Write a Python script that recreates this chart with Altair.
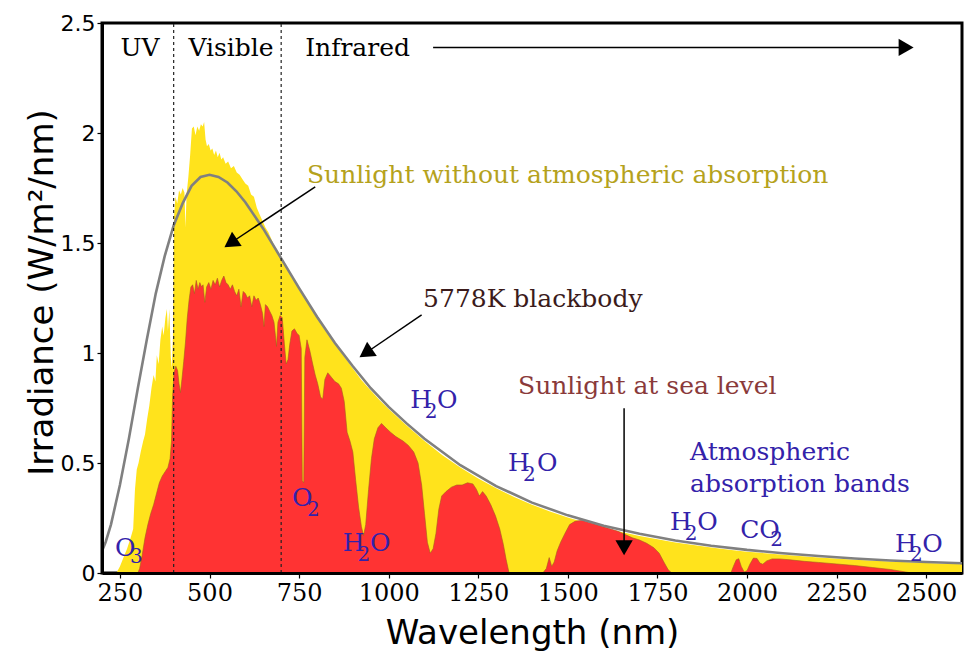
import altair as alt
import pandas as pd

# ---------------------------------------------------------------------------
# Solar spectrum: wavelength (nm) and spectral irradiance (W/m^2/nm)
# ---------------------------------------------------------------------------

# Sunlight at the top of the atmosphere (no atmospheric absorption)
toa_wl = [200, 240, 250, 260, 270, 280, 287, 292, 297, 302, 308, 315, 320, 326,
          332, 338, 344, 349, 353, 358, 363, 368, 372, 377, 381, 384, 388, 392,
          395, 398, 401, 405, 410, 415, 420, 425, 430, 433, 436, 441, 446, 451,
          456, 461, 466, 471, 476, 481, 485, 489, 493, 498, 503, 508, 513, 518,
          523, 528, 533, 538, 545, 552, 560, 568, 576, 584, 592, 600, 608, 616,
          624, 632, 640, 648, 656, 664, 672, 680, 690, 700, 715, 730, 745, 760,
          780, 800, 820, 840, 860, 880, 900, 925, 950, 975, 1000, 1050, 1100,
          1150, 1200, 1250, 1300, 1350, 1400, 1450, 1500, 1550, 1600, 1650,
          1700, 1750, 1800, 1850, 1900, 1950, 2000, 2100, 2200, 2300, 2400,
          2500, 2600]
toa_irr = [0.0, 0.0, 0.03, 0.07, 0.11, 0.16, 0.20, 0.38, 0.47, 0.50, 0.55, 0.60,
           0.63, 0.70, 0.76, 0.84, 0.90, 0.87, 0.99, 0.95, 1.06, 1.12, 1.08, 1.16,
           1.20, 1.10, 1.20, 0.98, 0.93, 1.08, 1.62, 1.71, 1.68, 1.74, 1.72, 1.75,
           1.73, 1.57, 1.72, 1.80, 1.90, 2.02, 2.03, 1.99, 2.03, 2.01, 2.04, 2.03,
           2.05, 1.97, 1.94, 1.95, 1.92, 1.93, 1.90, 1.92, 1.89, 1.91, 1.88, 1.89,
           1.86, 1.87, 1.84, 1.85, 1.82, 1.81, 1.79, 1.77, 1.76, 1.72, 1.71, 1.66,
           1.63, 1.60, 1.57, 1.55, 1.52, 1.49, 1.46, 1.43, 1.39, 1.34, 1.31, 1.27,
           1.22, 1.16, 1.11, 1.065, 1.02, 0.975, 0.93, 0.875, 0.83, 0.785, 0.745,
           0.67, 0.60, 0.535, 0.48, 0.43, 0.385, 0.345, 0.31, 0.28, 0.252, 0.228,
           0.205, 0.186, 0.168, 0.153, 0.139, 0.127, 0.116, 0.106, 0.097, 0.083,
           0.071, 0.060, 0.052, 0.045, 0.040]

# Sunlight at sea level
sea_wl = [200, 300, 305, 312, 320, 328, 336, 344, 352, 360, 368, 376, 384, 390,
          394, 397, 401, 406, 411, 415, 419, 423, 428, 433, 438, 443, 448, 453,
          458, 463, 468, 473, 478, 482, 487, 492, 498, 504, 510, 516, 522, 528,
          534, 540, 546, 552, 558, 564, 570, 576, 582, 588, 594, 600, 606, 612,
          618, 624, 630, 636, 642, 648, 652, 656, 662, 668, 674, 680, 684, 687,
          691, 697, 703, 709, 714, 719, 724, 730, 737, 744, 750, 756, 759, 763,
          766, 772, 780, 788, 795, 802, 810, 816, 822, 830, 840, 850, 860, 868,
          876, 884, 892, 900, 908, 916, 924, 930, 936, 944, 952, 960, 970, 980,
          992, 1005, 1020, 1040, 1055, 1070, 1082, 1092, 1100, 1108, 1116, 1124,
          1132, 1140, 1148, 1160, 1175, 1190, 1205, 1220, 1235, 1245, 1253, 1262,
          1272, 1285, 1298, 1310, 1320, 1328, 1336, 1430, 1440, 1448, 1455, 1462,
          1470, 1480, 1492, 1505, 1520, 1540, 1560, 1580, 1600, 1620, 1640, 1660,
          1680, 1700, 1720, 1740, 1755, 1768, 1780, 1790, 1955, 1962, 1970, 1977,
          1984, 1992, 2000, 2008, 2018, 2028, 2036, 2044, 2055, 2070, 2090, 2120,
          2160, 2200, 2250, 2300, 2350, 2400, 2430, 2460, 2600]
sea_irr = [0.0, 0.0, 0.02, 0.08, 0.16, 0.22, 0.27, 0.31, 0.36, 0.41, 0.44, 0.46,
           0.48, 0.52, 0.60, 0.80, 0.91, 0.94, 0.92, 0.86, 0.82, 0.88, 0.96, 1.05,
           1.16, 1.24, 1.30, 1.31, 1.27, 1.33, 1.29, 1.32, 1.30, 1.31, 1.23, 1.30,
           1.32, 1.29, 1.33, 1.31, 1.34, 1.30, 1.33, 1.35, 1.32, 1.31, 1.29, 1.31,
           1.28, 1.26, 1.29, 1.21, 1.28, 1.27, 1.25, 1.26, 1.21, 1.26, 1.24, 1.25,
           1.22, 1.18, 1.12, 1.22, 1.21, 1.19, 1.17, 1.14, 1.08, 1.03, 1.14, 1.17,
           1.16, 1.04, 0.95, 0.97, 1.04, 1.10, 1.11, 1.09, 1.08, 1.02, 0.42, 0.41,
           0.98, 1.06, 1.01, 0.95, 0.90, 0.86, 0.80, 0.79, 0.88, 0.91, 0.89, 0.87,
           0.86, 0.84, 0.78, 0.64, 0.60, 0.55, 0.42, 0.30, 0.21, 0.17, 0.22, 0.38,
           0.52, 0.61, 0.66, 0.68, 0.66, 0.64, 0.62, 0.60, 0.58, 0.55, 0.50, 0.40,
           0.27, 0.14, 0.09, 0.11, 0.18, 0.29, 0.35, 0.37, 0.39, 0.40, 0.40, 0.41,
           0.405, 0.38, 0.35, 0.37, 0.35, 0.31, 0.26, 0.20, 0.13, 0.06, 0.0, 0.0,
           0.02, 0.07, 0.03, 0.05, 0.10, 0.14, 0.18, 0.22, 0.235, 0.24, 0.23, 0.22,
           0.21, 0.20, 0.19, 0.175, 0.16, 0.15, 0.135, 0.115, 0.09, 0.05, 0.015,
           0.0, 0.0, 0.03, 0.06, 0.065, 0.03, 0.005, 0.01, 0.04, 0.068, 0.066,
           0.045, 0.04, 0.055, 0.064, 0.064, 0.06, 0.053, 0.048, 0.041, 0.034,
           0.025, 0.016, 0.008, 0.0, 0.0]

# 5778 K blackbody curve
bb_wl = [200, 210, 225, 250, 275, 300, 325, 350, 375, 400, 425, 450, 475, 500,
         525, 550, 575, 600, 650, 700, 750, 800, 850, 900, 950, 1000, 1050,
         1100, 1200, 1300, 1400, 1500, 1600, 1700, 1800, 1900, 2000, 2100, 2200,
         2300, 2400, 2500, 2600]
bb_irr = [0.10, 0.14, 0.22, 0.40, 0.61, 0.84, 1.06, 1.27, 1.44, 1.58, 1.68, 1.76,
          1.80, 1.81, 1.80, 1.775, 1.735, 1.685, 1.565, 1.43, 1.295, 1.165, 1.045,
          0.94, 0.84, 0.755, 0.68, 0.61, 0.49, 0.395, 0.32, 0.262, 0.215, 0.178,
          0.148, 0.124, 0.105, 0.09, 0.077, 0.066, 0.057, 0.05, 0.044]

# Boundaries of the visible band
band_edges = [400, 700]

x_ticks = [250, 500, 750, 1000, 1250, 1500, 1750, 2000, 2250, 2500]
y_ticks = [0, 0.5, 1, 1.5, 2, 2.5]

toa = pd.DataFrame({"wl": toa_wl, "irr": toa_irr})
sea = pd.DataFrame({"wl": sea_wl, "irr": sea_irr})
bb = pd.DataFrame({"wl": bb_wl, "irr": bb_irr})
edges = pd.DataFrame({"wl": band_edges, "irr": [0, 0], "irr2": [2.5, 2.5]})

# ---------------------------------------------------------------------------
# Shared scales and axes
# ---------------------------------------------------------------------------
x_scale = alt.Scale(domain=[200, 2600], nice=False, zero=False)
y_scale = alt.Scale(domain=[0, 2.5], nice=False)

x_axis = alt.Axis(values=x_ticks, format="d", title="Wavelength (nm)", grid=False,
                  labelFont="DejaVu Serif", labelFontSize=24, labelColor="black",
                  labelPadding=3, labelFlush=False, labelOverlap=False,
                  titleFont="DejaVu Sans", titleFontSize=34, titleFontWeight="normal",
                  titleColor="black", titleY=60, titleBaseline="middle",
                  tickSize=5, tickColor="black", tickWidth=1.2,
                  domainColor="black", domainWidth=3, zindex=2)
y_axis = alt.Axis(values=y_ticks, format="~g", title="Irradiance (W/m²/nm)", grid=False,
                  labelFont="DejaVu Sans", labelFontSize=22, labelColor="black",
                  labelPadding=2, labelFlush=False, labelOverlap=False,
                  titleFont="DejaVu Sans", titleFontSize=34, titleFontWeight="normal",
                  titleColor="black", titleAngle=270, titleX=-60, titleY=269,
                  titleBaseline="middle", titleAlign="center",
                  tickSize=5, tickColor="black", tickWidth=1.2,
                  domainColor="black", domainWidth=3, zindex=2)

X = alt.X("wl:Q", scale=x_scale, axis=x_axis)
Y = alt.Y("irr:Q", scale=y_scale, axis=y_axis)

# ---------------------------------------------------------------------------
# Spectra
# ---------------------------------------------------------------------------
toa_area = alt.Chart(toa).mark_area(color="#FFE31C", interpolate="linear").encode(x=X, y=Y)
sea_area = alt.Chart(sea).mark_area(color="#FF3333", interpolate="linear",
                                    stroke="#A65A1E", strokeWidth=0.6).encode(x=X, y=Y)
bb_line = alt.Chart(bb).mark_line(color="#808080", strokeWidth=2.6).encode(x=X, y=Y)

edge_rules = alt.Chart(edges).mark_rule(color="#222222", strokeWidth=1.2,
                                        strokeDash=[3, 3]).encode(
    x=X, y=Y, y2=alt.Y2("irr2:Q"))

# ---------------------------------------------------------------------------
# Annotations (positions in wavelength / irradiance units)
# ---------------------------------------------------------------------------
SERIF = "DejaVu Serif"

def text_layer(rows, color, size=25, align="left"):
    df = pd.DataFrame(rows, columns=["label", "wl", "irr"])
    return alt.Chart(df).mark_text(align=align, baseline="middle", font=SERIF,
                                   fontSize=size, color=color).encode(
        x=X, y=Y, text="label:N")

band_titles = text_layer([("UV", 306, 2.386), ("Visible", 560, 2.386)],
                         "black", align="center")
ir_title = text_layer([("Infrared", 767, 2.386)], "black")
toa_note = text_layer([("Sunlight without atmospheric absorption", 772, 1.809)], "#B5A21C")
bb_note = text_layer([("5778K blackbody", 1096, 1.245)], "#3B1B1B")
sea_note = text_layer([("Sunlight at sea level", 1361, 0.85)], "#8A3A3A")
abs_note = text_layer([("Atmospheric", 1841, 0.55), ("absorption bands", 1841, 0.405)],
                      "#3322AA")

BLUE = "#3322AA"
chem_main = text_layer([
    ("O", 236, 0.114),
    ("O", 730, 0.34),
    ("H", 872, 0.136), ("O", 948, 0.136),
    ("H", 1060, 0.785), ("O", 1135, 0.785),
    ("H", 1333, 0.50), ("O", 1414, 0.50),
    ("H", 1785, 0.232), ("O", 1861, 0.232),
    ("CO", 1981, 0.195),
    ("H", 2413, 0.132), ("O", 2489, 0.132),
], BLUE)
chem_sub = text_layer([
    ("3", 278, 0.073),
    ("2", 772, 0.286),
    ("2", 913, 0.082),
    ("2", 1101, 0.73),
    ("2", 1375, 0.445),
    ("2", 1826, 0.177),
    ("2", 2065, 0.148),
    ("2", 2455, 0.082),
], BLUE, size=20)

# Arrows: shaft from (wl, irr) to (wl2, irr2), head centred on the end point
arrows = pd.DataFrame({
    "wl":   [795, 1092, 1657, 1124],
    "irr":  [1.755, 1.173, 0.749, 2.389],
    "wl2":  [559, 936, 1657, 2444],
    "irr2": [1.50, 1.00, 0.115, 2.389],
    "ang":  [236, 236, 180, 90],
})
shafts = alt.Chart(arrows).mark_rule(color="black", strokeWidth=1.5).encode(
    x=X, y=Y, x2=alt.X2("wl2:Q"), y2=alt.Y2("irr2:Q"))
heads = alt.Chart(arrows).mark_point(shape="triangle-up", filled=True, color="black",
                                     opacity=1, size=300).encode(
    x=alt.X("wl2:Q", scale=x_scale, axis=x_axis),
    y=alt.Y("irr2:Q", scale=y_scale, axis=y_axis),
    angle=alt.Angle("ang:Q", scale=None))

chart = alt.layer(
    toa_area, sea_area, bb_line, edge_rules,
    band_titles, ir_title, toa_note, bb_note, sea_note, abs_note,
    chem_main, chem_sub, shafts, heads,
).properties(
    width=860, height=550,
    padding={"left": 102, "top": 23, "right": 8, "bottom": 84},
    autosize=alt.AutoSizeParams(type="none"),
    background="white",
).configure_view(stroke="black", strokeWidth=3)

chart.save("out.html", embed_options={"renderer": "svg", "actions": False})
